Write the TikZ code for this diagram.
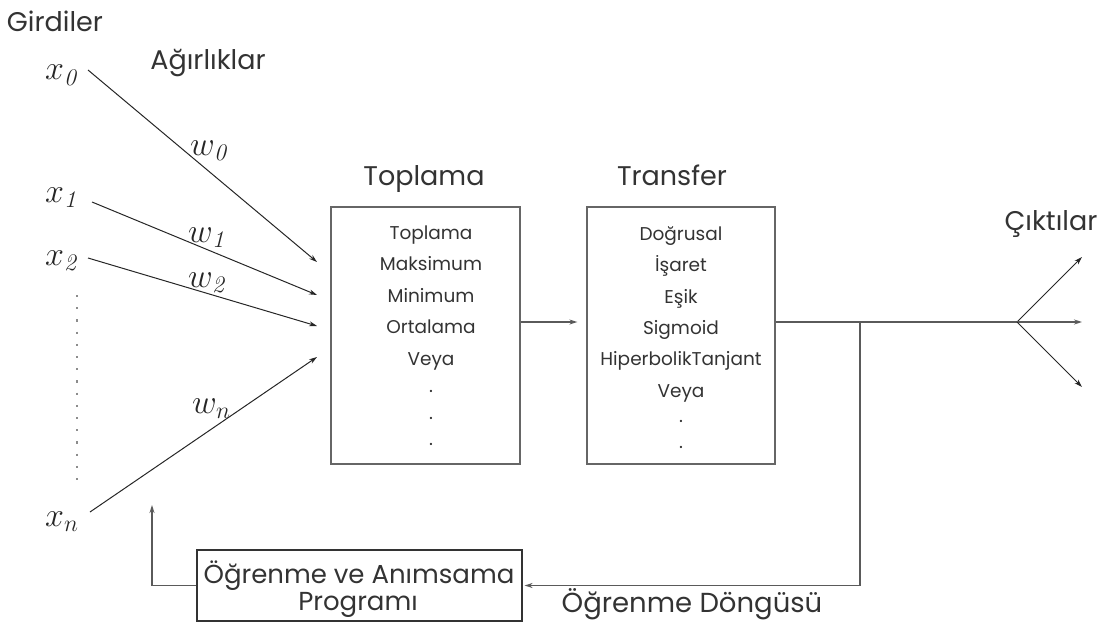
\documentclass[tikz,border=0pt]{standalone}
\usepackage{fix-cm}
\usepackage{fontspec}
\newfontfamily\gothic{Poppins}
\usetikzlibrary{arrows.meta}
\definecolor{ink}{HTML}{333333}
\definecolor{dark}{HTML}{262626}
\definecolor{boxgray}{HTML}{666666}
\definecolor{linegray}{HTML}{5A5A5A}
\definecolor{dotgray}{HTML}{8C8C8C}

\begin{document}
\begin{tikzpicture}[x=1pt,y=-1pt,
  title/.style={font=\gothic\fontsize{27}{32}\selectfont, text=ink, inner sep=0pt, anchor=base},
  item/.style={font=\gothic\fontsize{18.5}{22}\selectfont, text=ink, inner sep=0pt, anchor=base},
  bottomlbl/.style={font=\gothic\fontsize{26}{30}\selectfont, text=ink, inner sep=0pt, anchor=base},
  var/.style={font=\fontsize{34}{40}\selectfont, text=dark, inner sep=0pt, anchor=base west},
  box/.style={draw=boxgray, line width=1.3pt, inner sep=0pt},
  tip/.style={-{Stealth[length=8pt,width=5pt]}},
  inarrow/.style={draw=dark, line width=1pt, tip},
  flow/.style={draw=linegray, line width=1.3pt},
  dotline/.style={draw=dotgray, line width=2.2pt, dash pattern=on 2.2pt off 10pt},
]
\useasboundingbox (0,0) rectangle (1110,623);

% --- headings
\node[title] (girdiler) at (55,32) {Girdiler};
\node[title] (agirlik) at (208,70) {Ağırlıklar};
\node[title] (toptitle) at (424,185) {Toplama};
\node[title] (trtitle) at (672,185) {Transfer};
\node[title] (cikti) at (1051,230) {Çıktılar};

% --- inputs
\node[var] (x0) at (45,80) {$x_{\mathit{0}}$};
\node[var] (x1) at (45,202) {$x_{\mathit{1}}$};
\node[var] (x2) at (45,265) {$x_{\mathit{2}}$};
\node[var] (xn) at (45,526) {$x_{n}$};

% --- weights
\node[var] (w0) at (190,155) {$w_{\mathit{0}}$};
\node[var] (w1) at (188,242) {$w_{\mathit{1}}$};
\node[var] (w2) at (188,287) {$w_{\mathit{2}}$};
\node[var] (wn) at (192,413) {$w_{n}$};

% --- line starts and ends of the weighted inputs
\coordinate (s0) at (88,70);
\coordinate (s1) at (92,202);
\coordinate (s2) at (88,258);
\coordinate (sn) at (90,512);
\coordinate (e0) at (317,262);
\coordinate (e1) at (317,295);
\coordinate (e2) at (317,326);
\coordinate (en) at (317,357);

\draw[inarrow] (s0) -- (e0);
\draw[inarrow] (s1) -- (e1);
\draw[inarrow] (s2) -- (e2);
\draw[inarrow] (sn) -- (en);

% dotted column between x2 and xn
\coordinate (dtop) at (77,295);
\coordinate (dbot) at (77,482);
\draw[dotline] (dtop) -- (dbot);

% --- summation block
\node[box, minimum width=189pt, minimum height=257pt] (sum) at (425.5,335.5) {};
\foreach \t/\yy [count=\i] in {Toplama/239, Maksimum/270.5, Minimum/302, Ortalama/333.5, Veya/365, ./392, ./419, ./445}
  \node[item] (sumitem\i) at (431,\yy) {\t};

% --- transfer block
\node[box, minimum width=188pt, minimum height=257pt] (tr) at (681,335.5) {};
\foreach \t/\yy [count=\i] in {Doğrusal/240, İşaret/271.5, Eşik/303, Sigmoid/334, HiperbolikTanjant/365.5, Veya/397, ./422, ./448}
  \node[item] (tritem\i) at (681,\yy) {\t};

% --- output side
\coordinate (fork) at (1017,322);
\coordinate (tap) at (860,322);
\coordinate (o1) at (1082,257);
\coordinate (o2) at (1082,322);
\coordinate (o3) at (1082,387);

\draw[flow, tip] (sum.east |- fork) -- ([xshift=-9pt]tr.west |- fork);
\draw[flow] (tr.east |- fork) -- (fork);
\draw[inarrow] (fork) -- (o1);
\draw[flow, tip] (fork) -- (o2);
\draw[inarrow] (fork) -- (o3);

% --- learning loop
\node[box, draw=ink, line width=1.1pt, minimum width=325pt, minimum height=71pt] (learn) at (359.5,585.5) {};
\node[bottomlbl] (learn1) at (359,583) {Öğrenme ve Anımsama};
\node[bottomlbl] (learn2) at (358,610) {Programı};
\node[bottomlbl, font=\gothic\fontsize{27.5}{30}\selectfont] (dongu) at (692,612) {Öğrenme Döngüsü};

\coordinate (fbtop) at (152,505);
\draw[flow, tip] (tap) |- ([xshift=2pt]learn.east);
\draw[flow, tip] (learn.west) -| (fbtop);

\end{tikzpicture}
\end{document}
